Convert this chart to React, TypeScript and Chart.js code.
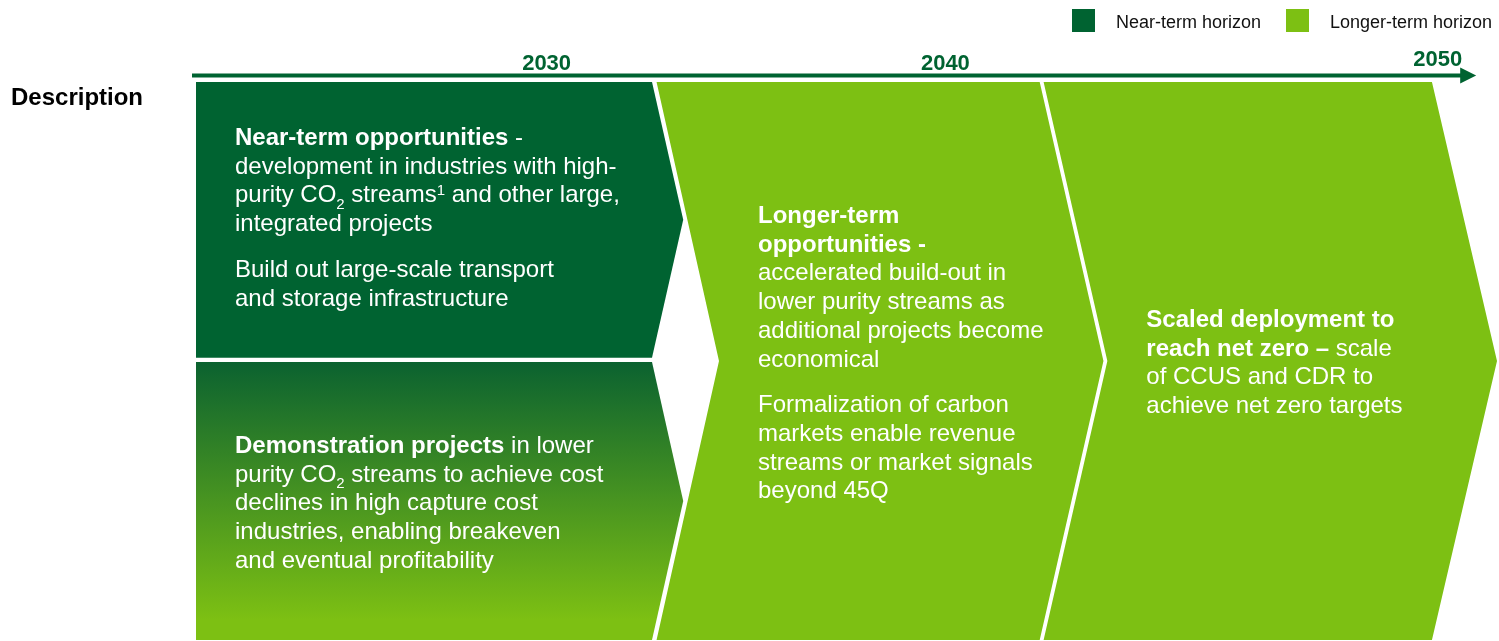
import React, { useEffect, useRef } from 'react';
import { Chart, registerables } from 'chart.js';

Chart.register(...registerables);

const FONT = '"Liberation Sans", Arial, Helvetica, sans-serif';
const DARK = '#006331';
const LIGHT = '#7dc013';
const GRAD_TOP = '#0b6230';

// ---------- data ----------
const legendLabels = ['Near-term horizon', 'Longer-term horizon'];
const legendColors = [DARK, LIGHT];

const yearLabels = ['2030', '2040', '2050'];
const yearPositions = [26.95, 57.6, 95.45]; // on the 0-100 timeline
const timelineEnd = 98.4;

const rowLabel = 'Description';

// chevrons on a 0-100 timeline (x) and a 0-100 vertical band (y, 0 = top)
const phaseNames = ['Near-term opportunities', 'Demonstration projects', 'Longer-term opportunities', 'Scaled deployment to reach net zero'];
const phaseStart = [0, 0, 35.4, 65.15];
const phaseEnd = [35.05, 35.05, 64.85, 95.0];
const phaseTop = [0, 50.2, 0, 0];
const phaseBottom = [49.4, 100, 100, 100];
const phaseNotch = [0, 0, 4.8, 4.9];
const phaseTip = [2.4, 2.4, 4.9, 5.0];

const nearTermText = [
  '**Near-term opportunities** -',
  'development in industries with high-',
  'purity CO_{2} streams^{1} and other large,',
  'integrated projects',
  '',
  'Build out large-scale transport',
  'and storage infrastructure',
];
const demoText = [
  '**Demonstration projects** in lower',
  'purity CO_{2} streams to achieve cost',
  'declines in high capture cost',
  'industries, enabling breakeven',
  'and eventual profitability',
];
const longerTermText = [
  '**Longer-term**',
  '**opportunities -**',
  'accelerated build-out in',
  'lower purity streams as',
  'additional projects become',
  'economical',
  '',
  'Formalization of carbon',
  'markets enable revenue',
  'streams or market signals',
  'beyond 45Q',
];
const netZeroText = [
  '**Scaled deployment to**',
  '**reach net zero –** scale',
  'of CCUS and CDR to',
  'achieve net zero targets',
];
const phaseTexts = [nearTermText, demoText, longerTermText, netZeroText];

// ---------- helpers ----------
type Run = { t: string; b?: boolean; sub?: boolean; sup?: boolean };

function parseRich(s: string): Run[] {
  const out: Run[] = [];
  const re = /\*\*(.+?)\*\*|_\{(.+?)\}|\^\{(.+?)\}/g;
  let last = 0;
  let m: RegExpExecArray | null;
  while ((m = re.exec(s))) {
    if (m.index > last) out.push({ t: s.slice(last, m.index) });
    if (m[1] !== undefined) out.push({ t: m[1], b: true });
    else if (m[2] !== undefined) out.push({ t: m[2], sub: true });
    else out.push({ t: m[3], sup: true });
    last = re.lastIndex;
  }
  if (last < s.length) out.push({ t: s.slice(last) });
  return out;
}

function drawRich(ctx: CanvasRenderingContext2D, runs: Run[], x: number, y: number, size: number) {
  let cx = x;
  for (const r of runs) {
    const small = r.sub || r.sup;
    const fs = small ? Math.round(size * 0.64) : size;
    ctx.font = `${r.b ? 'bold ' : ''}${fs}px ${FONT}`;
    const dy = r.sub ? size * 0.28 : r.sup ? -size * 0.3 : 0;
    ctx.fillText(r.t, cx, y + dy);
    cx += ctx.measureText(r.t).width;
  }
}

const decorPlugin = {
  id: 'decor',
  afterDatasetsDraw(chart: any) {
    const ctx: CanvasRenderingContext2D = chart.ctx;
    const xs = chart.scales.x;
    const area = chart.chartArea;
    ctx.save();
    ctx.textBaseline = 'alphabetic';

    // legend
    const legendX = [1072, 1286];
    legendLabels.forEach((lab, i) => {
      ctx.fillStyle = legendColors[i];
      ctx.fillRect(legendX[i], 9, 23, 23);
      ctx.fillStyle = '#111111';
      ctx.font = `18px ${FONT}`;
      ctx.textAlign = 'left';
      ctx.fillText(lab, legendX[i] + 44, 28);
    });

    // timeline arrow
    const ay = 75.5;
    const x0 = area.left - 4;
    const x1 = xs.getPixelForValue(timelineEnd);
    ctx.strokeStyle = DARK;
    ctx.lineWidth = 4;
    ctx.beginPath();
    ctx.moveTo(x0, ay);
    ctx.lineTo(x1 - 14, ay);
    ctx.stroke();
    ctx.fillStyle = DARK;
    ctx.beginPath();
    ctx.moveTo(x1 - 16, ay - 8);
    ctx.lineTo(x1, ay);
    ctx.lineTo(x1 - 16, ay + 8);
    ctx.closePath();
    ctx.fill();

    // year labels
    ctx.font = `bold 22px ${FONT}`;
    ctx.textAlign = 'center';
    yearLabels.forEach((y, i) => {
      const base = i === yearLabels.length - 1 ? 66 : 70;
      ctx.fillText(y, xs.getPixelForValue(yearPositions[i]), base);
    });

    // row label
    ctx.fillStyle = '#000000';
    ctx.textAlign = 'left';
    ctx.font = `bold 24px ${FONT}`;
    ctx.fillText(rowLabel, 11, 105);

    // texts inside chevrons
    const firstBaseline = [145, 453, 223, 327];
    const lh = 28.7;
    const gap = 17;
    ctx.fillStyle = '#ffffff';
    phaseTexts.forEach((lines, i) => {
      const left = xs.getPixelForValue(phaseStart[i] + phaseNotch[i]) + 39;
      let y = firstBaseline[i];
      lines.forEach((ln, j) => {
        if (ln === '') {
          y += gap;
          return;
        }
        drawRich(ctx, parseRich(ln), left, y, 24);
        if (j < lines.length - 1) y += lh;
      });
    });
    ctx.restore();
  },
};

export default function App() {
  const ref = useRef<HTMLCanvasElement | null>(null);

  useEffect(() => {
    if (!ref.current) return;
    const datasets = phaseNames.map((name, i) => {
      const mid = (phaseTop[i] + phaseBottom[i]) / 2;
      const pts = [
        { x: phaseStart[i], y: phaseTop[i] },
        { x: phaseEnd[i], y: phaseTop[i] },
        { x: phaseEnd[i] + phaseTip[i], y: mid },
        { x: phaseEnd[i], y: phaseBottom[i] },
        { x: phaseStart[i], y: phaseBottom[i] },
        { x: phaseStart[i] + phaseNotch[i], y: mid },
        { x: phaseStart[i], y: phaseTop[i] },
      ];
      const bg =
        i === 0
          ? DARK
          : i === 1
          ? (c: any) => {
              const ch = c.chart;
              if (!ch.chartArea) return GRAD_TOP;
              const y = ch.scales.y;
              const g = ch.ctx.createLinearGradient(0, y.getPixelForValue(phaseTop[1]), 0, y.getPixelForValue(phaseBottom[1]) - 20);
              g.addColorStop(0, GRAD_TOP);
              g.addColorStop(1, LIGHT);
              return g;
            }
          : LIGHT;
      return {
        label: name,
        data: pts,
        fill: 'shape',
        backgroundColor: bg,
        borderColor: 'rgba(0,0,0,0)',
        borderWidth: 0,
        pointRadius: 0,
        pointHoverRadius: 0,
        tension: 0,
        clip: false,
      };
    });

    const chart = new Chart(ref.current, {
      type: 'line',
      data: { datasets: datasets as any },
      options: {
        responsive: false,
        devicePixelRatio: 1,
        animation: false,
        events: [],
        layout: { padding: { left: 196, right: 2, top: 82, bottom: 1 } },
        scales: {
          x: { type: 'linear', min: 0, max: 100, display: false },
          y: { type: 'linear', min: 0, max: 100, reverse: true, display: false },
        },
        plugins: {
          legend: { display: false },
          tooltip: { enabled: false },
          title: { display: false },
        },
      },
      plugins: [decorPlugin],
    });
    return () => chart.destroy();
  }, []);

  return (
    <div style={{ position: 'fixed', left: 0, top: 0, width: 1499, height: 641, background: '#ffffff' }}>
      <canvas ref={ref} width={1499} height={641} style={{ display: 'block' }} />
    </div>
  );
}
